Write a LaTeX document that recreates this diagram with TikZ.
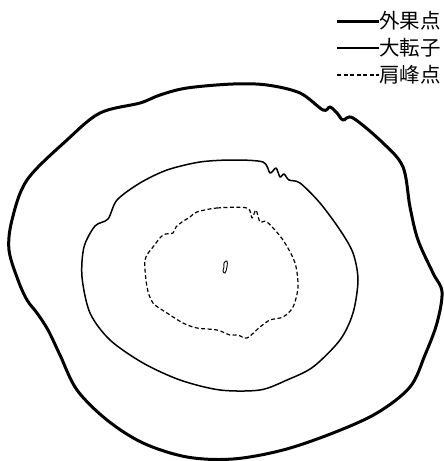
\documentclass[tikz,border=0pt]{standalone}
\usepackage{fontspec}
\newfontfamily\cjk{Noto Sans CJK JP}
\begin{document}
\begin{tikzpicture}[x=1pt,y=-1pt,
  outerline/.style={line width=3pt,line join=round},
  midline/.style={line width=1.5pt,line join=round},
  innerline/.style={line width=1.2pt,dash pattern=on 4pt off 2.5pt,line join=round},
  legtext/.style={font=\cjk\fontsize{20.5}{22}\selectfont,anchor=west,inner sep=0pt}]
\useasboundingbox (0,0) rectangle (444,461);
% legend
\coordinate (l1a) at (337,21); \coordinate (l1b) at (379,21);
\coordinate (l2a) at (337,48); \coordinate (l2b) at (379,48);
\coordinate (l3a) at (337,75); \coordinate (l3b) at (379,75);
\draw[outerline] (l1a) -- (l1b);
\draw[midline] (l2a) -- (l2b);
\draw[innerline] (l3a) -- (l3b);
\node[legtext] (t1) at (379,21) {外果点};
\node[legtext] (t2) at (379,48) {大転子};
\node[legtext] (t3) at (379,75) {肩峰点};
% outer contour
\draw[outerline] plot[smooth cycle,tension=0.55] coordinates {
 (233,84) (267,85) (300,93) (323,110) (330,107) (337,113) (343,120) (353,118)
 (383,143) (403,167) (410,207) (418,240) (433,273) (442,292) (437,323)
 (425,355) (410,387) (377,413) (333,433) (283,450) (233,459) (187,457)
 (143,443) (107,420) (77,390) (60,355) (48,330) (37,313) (27,300) (18,280) (9,250) (12,220)
 (27,180) (67,140) (100,113) (140,103) (160,95) (187,88)};
% middle contour
\draw[midline] plot[smooth cycle,tension=0.5] coordinates {
 (233,160) (263,162) (270,173) (276,168) (280,177) (284,174) (289,180) (300,183)
 (320,203) (340,230) (353,253) (358,280) (353,313) (340,340) (313,367)
 (287,380) (260,390) (220,390) (180,380) (143,363) (110,340) (90,313)
 (82,277) (84,247) (95,226) (108,219) (117,200) (140,183) (167,170) (200,162)};
% inner dashed contour
\draw[innerline] plot[smooth cycle,tension=0.5] coordinates {
 (197,212) (217,208) (247,208) (252,218) (256,210) (260,222) (267,222)
 (283,240) (295,263) (298,287) (293,307) (283,317) (270,320) (260,327)
 (247,338) (238,335) (230,335) (217,330) (197,328) (183,323) (167,313)
 (153,303) (147,287) (145,260) (153,247) (163,235) (173,233) (176,227) (182,222) (190,217)};
% small blob
\draw[line width=0.9pt] plot[smooth cycle,tension=0.7] coordinates {
 (224,263) (227,261) (227,267) (225,273) (223,271) (224,267)};
\end{tikzpicture}
\end{document}
